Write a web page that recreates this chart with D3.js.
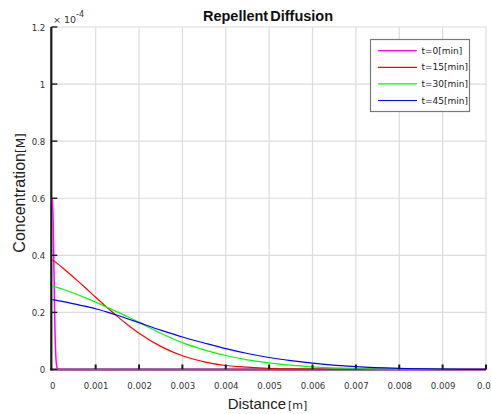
<!DOCTYPE html>
<html>
<head>
<meta charset="utf-8">
<script src="https://cdn.jsdelivr.net/npm/d3@7"></script>
<style>
  html, body { margin: 0; padding: 0; background: #fff; }
  svg { display: block; }
</style>
</head>
<body>
<svg id="chart" width="491" height="414"></svg>
<script>
// Concentration profiles (units of 1e-4 M) sampled along distance (m)
const distance = [0, 0.00025, 0.0005, 0.00075, 0.001, 0.00125, 0.0015, 0.00175, 0.002,
                  0.0025, 0.003, 0.0035, 0.004, 0.0045, 0.005, 0.0055, 0.006,
                  0.007, 0.008, 0.009, 0.01];
const conc15 = [0.385, 0.355, 0.322, 0.288, 0.253, 0.219, 0.186, 0.155, 0.127,
                0.081, 0.048, 0.027, 0.014, 0.008, 0.004, 0.002, 0.001,
                0.0003, 0, 0, 0];
const conc30 = [0.294, 0.281, 0.267, 0.252, 0.236, 0.219, 0.202, 0.184, 0.165,
                0.127, 0.094, 0.069, 0.049, 0.034, 0.023, 0.015, 0.0095,
                0.0035, 0.001, 0.0002, 0];
const conc45 = [0.245, 0.238, 0.230, 0.222, 0.213, 0.202, 0.190, 0.177, 0.164,
                0.138, 0.114, 0.093, 0.073, 0.056, 0.042, 0.031, 0.022,
                0.0098, 0.0037, 0.0012, 0.0003];
// initial pulse is very narrow, so it has its own distance grid
const distance0 = [0, 0.00002, 0.00004, 0.00006, 0.00008, 0.0001, 0.00012, 0.00014, 0.0002, 0.01];
const conc0 = [0.6, 0.52, 0.33, 0.15, 0.05, 0.013, 0.003, 0.0005, 0, 0];

const seriesNames = ["t=0", "t=15", "t=30", "t=45"];
const seriesColors = ["#ff00ff", "#ff0000", "#00ff00", "#0000ff"];
const xTicks = [0, 0.001, 0.002, 0.003, 0.004, 0.005, 0.006, 0.007, 0.008, 0.009, 0.01];
const yTicks = [0, 0.2, 0.4, 0.6, 0.8, 1, 1.2];

const series = [
  { name: seriesNames[0], color: seriesColors[0], xs: distance0, ys: conc0 },
  { name: seriesNames[1], color: seriesColors[1], xs: distance, ys: conc15 },
  { name: seriesNames[2], color: seriesColors[2], xs: distance, ys: conc30 },
  { name: seriesNames[3], color: seriesColors[3], xs: distance, ys: conc45 }
];

const svg = d3.select("#chart");
const plotL = 52.3, plotR = 486, plotT = 27, plotB = 369.5;

const x = d3.scaleLinear().domain([0, 0.01]).range([plotL, plotR]);
const y = d3.scaleLinear().domain([0, 1.2]).range([plotB, plotT]);

svg.append("rect").attr("width", 491).attr("height", 414).attr("fill", "#fff");

// grid
const grid = svg.append("g").attr("stroke", "#dcdcdc").attr("stroke-width", 1.2);
grid.selectAll("line.v").data(xTicks.slice(1)).join("line")
  .attr("class", "v")
  .attr("x1", d => x(d)).attr("x2", d => x(d))
  .attr("y1", plotT).attr("y2", plotB);
grid.selectAll("line.h").data(yTicks.slice(1)).join("line")
  .attr("class", "h")
  .attr("x1", plotL).attr("x2", plotR)
  .attr("y1", d => y(d)).attr("y2", d => y(d));

// axis lines
svg.append("line").attr("x1", plotL - 1).attr("x2", plotL - 1)
  .attr("y1", plotT).attr("y2", plotB + 1)
  .attr("stroke", "#1a1a1a").attr("stroke-width", 2.2);
svg.append("line").attr("x1", plotL - 2).attr("x2", plotR)
  .attr("y1", plotB).attr("y2", plotB)
  .attr("stroke", "#1a1a1a").attr("stroke-width", 2);

// curves
const line = d3.line().curve(d3.curveMonotoneX)
  .x(d => x(d[0])).y(d => y(d[1]));
svg.append("g").attr("fill", "none")
  .selectAll("path").data(series).join("path")
  .attr("stroke", d => d.color)
  .attr("stroke-width", (d, i) => i === 0 ? 1.5 : 1.2)
  .attr("d", d => line(d.xs.map((v, i) => [v, d.ys[i]])));

// axes via d3: ticks drawn inside the plot
const xAxis = d3.axisBottom(x).tickValues(xTicks).tickSize(0).tickPadding(0)
  .tickFormat(d => d === 0 ? "0" : d3.format(".3~f")(d));
const gx = svg.append("g").attr("transform", `translate(0,${plotB})`).call(xAxis);
gx.select(".domain").remove();
gx.selectAll(".tick line").remove();
gx.selectAll(".tick text")
  .attr("y", 19).attr("dy", 0)
  .attr("font-family", "DejaVu Sans").attr("font-size", 8.6).attr("fill", "#333");

svg.append("g").selectAll("line").data(xTicks.slice(1)).join("line")
  .attr("x1", d => x(d)).attr("x2", d => x(d))
  .attr("y1", plotB).attr("y2", plotB - 5)
  .attr("stroke", "#1a1a1a").attr("stroke-width", 2);

const yAxis = d3.axisLeft(y).tickValues(yTicks).tickSize(0).tickPadding(0)
  .tickFormat(d3.format("~g"));
const gy = svg.append("g").attr("transform", `translate(${plotL - 7},0)`).call(yAxis);
gy.select(".domain").remove();
gy.selectAll(".tick line").remove();
gy.selectAll(".tick text")
  .attr("x", 0).attr("dy", "0.35em")
  .attr("font-family", "DejaVu Sans").attr("font-size", 8.6).attr("fill", "#333");

svg.append("g").selectAll("line").data(yTicks.slice(1)).join("line")
  .attr("x1", plotL - 1).attr("x2", plotL + 5)
  .attr("y1", d => y(d)).attr("y2", d => y(d))
  .attr("stroke", "#1a1a1a").attr("stroke-width", 1.4);

// exponent marker
const ex = svg.append("text").attr("x", 53).attr("y", 22.5)
  .attr("font-family", "DejaVu Sans").attr("font-size", 9.5).attr("fill", "#333");
ex.append("tspan").text("\u00d7 10");
ex.append("tspan").attr("dy", -6).attr("font-size", 8).text("-4");

// title
svg.append("text").attr("x", 268).attr("y", 21)
  .attr("text-anchor", "middle")
  .attr("font-family", "Liberation Sans, Arial, sans-serif")
  .attr("font-weight", "bold").attr("font-size", 14.5).attr("fill", "#111")
  .attr("word-spacing", -2)
  .text("Repellent Diffusion");

// axis labels
const xl = svg.append("text").attr("x", 267.5).attr("y", 409)
  .attr("text-anchor", "middle").attr("fill", "#222");
xl.append("tspan").attr("font-family", "Liberation Sans, Arial, sans-serif")
  .attr("font-size", 15).text("Distance");
xl.append("tspan").attr("font-family", "DejaVu Sans").attr("font-size", 11)
  .attr("dx", 2).text("[m]");

const yl = svg.append("text")
  .attr("transform", "translate(25,193) rotate(-90)")
  .attr("text-anchor", "middle").attr("fill", "#222");
yl.append("tspan").attr("font-family", "Liberation Sans, Arial, sans-serif")
  .attr("font-size", 16).text("Concentration");
yl.append("tspan").attr("font-family", "DejaVu Sans").attr("font-size", 12)
  .text("[M]");

// legend
const lg = svg.append("g");
lg.append("rect").attr("x", 370.5).attr("y", 39.5).attr("width", 99).attr("height", 72)
  .attr("fill", "#fff").attr("stroke", "#7a7a7a").attr("stroke-width", 1.2);
const rows = lg.selectAll("g.row").data(series).join("g")
  .attr("class", "row")
  .attr("transform", (d, i) => `translate(0,${50.7 + i * 16.6})`);
rows.append("line").attr("x1", 378).attr("x2", 417)
  .attr("stroke", d => d.color).attr("stroke-width", 1.2);
rows.append("text").attr("x", 421.5).attr("dy", "0.35em")
  .attr("font-family", "DejaVu Sans").attr("font-size", 9).attr("fill", "#222")
  .text(d => d.name + "[min]");
</script>
</body>
</html>
